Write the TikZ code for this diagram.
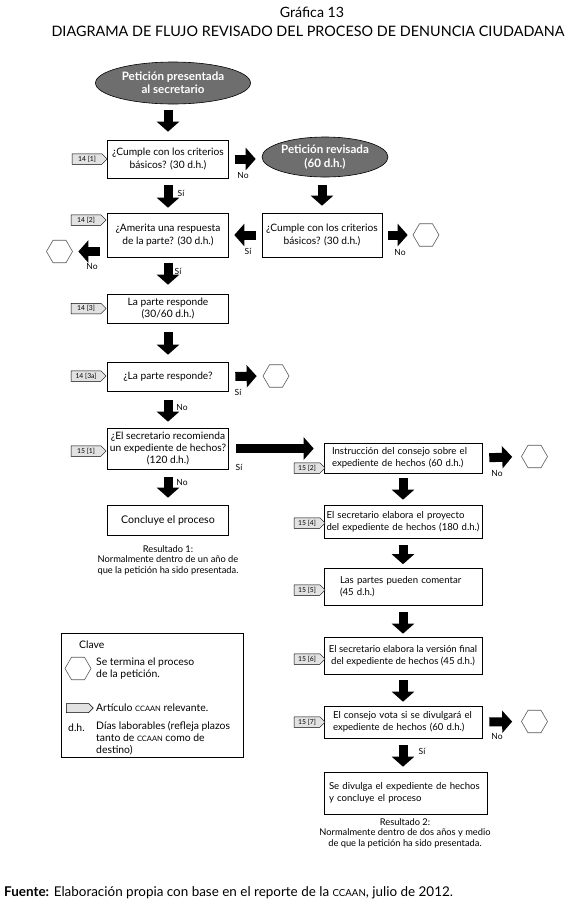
\documentclass[tikz,border=0pt]{standalone}
\usepackage{fontspec}
\setmainfont{Lato}
\usetikzlibrary{shapes.geometric,shapes.symbols,arrows.meta,calc}
\definecolor{ovalgray}{HTML}{6E6E6E}
\definecolor{tagfill}{HTML}{E2E2E2}
\newcommand{\ccaan}{{\fontsize{0.72em}{1em}\selectfont CCAAN}}
\newcommand{\oneln}[1]{\mbox{#1}}
\begin{document}
\begin{tikzpicture}[x=1pt,y=-1pt,
 box/.style={draw, line width=0.6pt, align=center, font=\fontsize{10.2}{12.8}\selectfont, inner xsep=1pt, inner ysep=2pt},
 lbox/.style={box, minimum width=121pt},
 rbox/.style={box, align=left, font=\fontsize{9.6}{12}\selectfont, inner xsep=8pt, text width=142pt},
 oval/.style={ellipse, draw, line width=0.6pt, fill=ovalgray, text=white, font=\bfseries\fontsize{11.6}{13.2}\selectfont, align=center, inner sep=0pt},
 hexa/.style={regular polygon, regular polygon sides=6, draw=black!65, line width=0.6pt, minimum size=26pt, inner sep=0pt},
 tagbox/.style={signal, signal to=east, draw, fill=tagfill, line width=0.5pt, font=\fontsize{6.8}{7}\selectfont, inner xsep=1.5pt, inner ysep=0.5pt, minimum height=10.5pt, minimum width=35pt},
 rtag/.style={tagbox, minimum width=31pt},
 blk/.style={line width=9pt, -{Triangle[width=22pt,length=10pt]}, black},
 lab/.style={font=\fontsize{8.5}{9}\selectfont, inner sep=0pt},
 res/.style={font=\fontsize{9.3}{10.6}\selectfont, align=center, inner sep=0pt},
 leg/.style={font=\fontsize{10.4}{12}\selectfont, align=left, inner sep=0pt},
]
\useasboundingbox (0,0) rectangle (568,906);

% titles
\node[font=\fontsize{14.2}{16}\selectfont] (t1) at (312,12) {Gráfica 13};
\node[font=\fontsize{14.4}{16}\selectfont] (t2) at (308,31) {DIAGRAMA DE FLUJO REVISADO DEL PROCESO DE DENUNCIA CIUDADANA};

% ellipses
\node[oval, minimum width=155pt, minimum height=42pt] (ell1) at (173,83) {Petición presentada\\al secretario};
\node[oval, minimum width=126pt, minimum height=40pt] (ell2) at (325,157) {Petición revisada\\(60 d.h.)};

% left column
\node[lbox, minimum height=38pt] (b1) at (168,159) {¿Cumple con los criterios\\básicos? (30 d.h.)};
\node[lbox, minimum height=44pt] (b2) at (168,235) {¿Amerita una respuesta\\de la parte? (30 d.h.)};
\node[lbox, minimum height=29pt] (b3) at (168,308.5) {La parte responde\\(30/60 d.h.)};
\node[lbox, minimum height=29pt] (b4) at (168,376.5) {¿La parte responde?};
\node[lbox, minimum height=41pt, font=\fontsize{10.2}{11.8}\selectfont] (b5) at (168,448.5) {¿El secretario recomienda\\un expediente de hechos?\\(120 d.h.)};
\node[lbox, minimum height=30pt, font=\fontsize{10.6}{12}\selectfont] (b6) at (168,520) {Concluye el proceso};
\node[res] (r1) at (168,560) {Resultado 1:\\Normalmente dentro de un año de\\que la petición ha sido presentada.};

% right box at second level
\node[box, minimum width=120pt, minimum height=44pt] (rb) at (322,235) {¿Cumple con los criterios\\básicos? (30 d.h.)};

% right column
\node[rbox, minimum height=30pt] (R1) at (403,458) {\oneln{Instrucción del consejo sobre el}\\\oneln{expediente de hechos (60 d.h.)}};
\node[rbox, inner xsep=2.5pt, text width=153pt, minimum height=33pt] (R2) at (403,521.5) {\oneln{El secretario elabora el proyecto}\\\oneln{del expediente de hechos (180 d.h.)}};
\node[rbox, inner xsep=16pt, text width=126pt, minimum height=37pt] (R3) at (403,587) {\oneln{Las partes pueden comentar}\\(45 d.h.)};
\node[box, font=\fontsize{9.6}{12}\selectfont, minimum width=158pt, minimum height=37pt] (R4) at (403,655.5) {El secretario elabora la versión final\\del expediente de hechos (45 d.h.)};
\node[rbox, inner xsep=9pt, text width=140pt, minimum height=32pt] (R5) at (403,722) {\oneln{El consejo vota si se divulgará el}\\\oneln{expediente de hechos (60 d.h.)}};
\node[rbox, inner xsep=5pt, text width=153pt, minimum height=42pt] (R6) at (405.5,793) {\oneln{Se divulga el expediente de hechos}\\\oneln{y concluye el proceso}};
\node[res] (r2) at (405,833) {Resultado 2:\\Normalmente dentro de dos años y medio\\de que la petición ha sido presentada.};

% hexagons
\node[hexa] (hA) at (426,235) {};
\node[hexa] (hL) at (59.5,251.5) {};
\node[hexa] (hB) at (276,376) {};
\node[hexa] (hC) at (534.5,456.5) {};
\node[hexa] (hD) at (534.5,721.5) {};

% tags
\node[tagbox] (g1) at (87,159) {14 [1]};
\node[tagbox] (g2) at (86,220) {14 [2]};
\node[tagbox] (g3) at (86,308.5) {14 [3]};
\node[tagbox] (g4) at (86,376) {14 [3a]};
\node[tagbox] (g5) at (86,451) {15 [1]};
\node[rtag] (g6) at (307,468) {15 [2]};
\node[rtag] (g7) at (307,523) {15 [4]};
\node[rtag] (g8) at (307,590) {15 [5]};
\node[rtag] (g9) at (307,659) {15 [6]};
\node[rtag] (g10) at (307,722) {15 [7]};

% arrows
\draw[blk, shorten <=6pt, shorten >=8pt] (ell1.south -| b1.north) -- (b1.north);
\draw[blk, shorten <=6pt, shorten >=6pt] (b1.east) -- (b1.east -| ell2.west);
\draw[blk, shorten <=7pt, shorten >=5pt] (b1.south) -- (b2.north);
\draw[blk, shorten <=8pt, shorten >=7pt] (ell2.south -| rb.north) -- (rb.north);
\draw[blk, shorten <=6pt, shorten >=5.5pt] (rb.west) -- (b2.east);
\draw[blk, shorten <=6pt, shorten >=5pt] (rb.east) -- (hA.west);
\draw[blk, shorten <=7.5pt, shorten >=5.5pt] (b2.west |- hL.east) -- (hL.east);
\draw[blk, shorten <=6pt, shorten >=9pt] (b2.south) -- (b3.north);
\draw[blk, shorten <=9pt, shorten >=7pt] (b3.south) -- (b4.north);
\draw[blk, shorten <=6.5pt, shorten >=6pt] (b4.east) -- (hB.west);
\draw[blk, shorten <=9pt, shorten >=6pt] (b4.south) -- (b5.north);
\draw[blk, shorten <=7.5pt, shorten >=10pt] (b5.east) -- (b5.east -| R1.west);
\draw[blk, shorten <=8pt, shorten >=7pt] (b5.south) -- (b6.north);
\draw[blk, shorten <=7pt, shorten >=9pt] (R1.east) -- (hC.west);
\draw[blk, shorten <=5pt, shorten >=5pt] (R1.south) -- (R1.south |- R2.north);
\draw[blk, shorten <=7pt, shorten >=4pt] (R2.south) -- (R2.south |- R3.north);
\draw[blk, shorten <=6.5pt, shorten >=3pt] (R3.south) -- (R3.south |- R4.north);
\draw[blk, shorten <=6pt, shorten >=4pt] (R4.south) -- (R4.south |- R5.north);
\draw[blk, shorten <=7pt, shorten >=9pt] (R5.east) -- (hD.west);
\draw[blk, shorten <=7pt, shorten >=5pt] (R5.south) -- (R5.south |- R6.north);

% labels
\node[lab] (l1) at (243,175) {No};
\node[lab] (l2) at (181,193) {Sí};
\node[lab] (l3) at (248,251) {Sí};
\node[lab] (l4) at (400,252) {No};
\node[lab] (l5) at (92,266) {No};
\node[lab] (l6) at (178,271) {Sí};
\node[lab] (l7) at (238,392) {Sí};
\node[lab] (l8) at (182,407) {No};
\node[lab] (l9) at (239,467) {Sí};
\node[lab] (l10) at (182,482) {No};
\node[lab] (l11) at (497,473) {No};
\node[lab] (l12) at (497,736) {No};
\node[lab] (l13) at (422,751) {Sí};

% legend
\node[draw, line width=0.6pt, minimum width=182pt, minimum height=124pt] (legend) at (152,695) {};
\node[leg, anchor=west] (lc) at (79,645) {Clave};
\node[hexa] (lh) at (78,668.5) {};
\node[leg, anchor=west] (lht) at (96,668.5) {Se termina el proceso\\de la petición.};
\node[tagbox, minimum width=27pt, minimum height=9pt] (ltag) at (77.5,708) {};
\node[leg, anchor=west] (ltt) at (96,708) {Artículo \ccaan{} relevante.};
\node[leg, anchor=west] (ldh) at (68,728) {d.h.};
\node[leg, anchor=north west] (ldt) at (96,721.5) {Días laborables (refleja plazos\\tanto de \ccaan{} como de\\destino)};

% footer
\node[anchor=west, font=\fontsize{13.45}{15}\selectfont, inner sep=0pt] (foot) at (4,893) {\textbf{Fuente:} Elaboración propia con base en el reporte de la \ccaan, julio de 2012.};
\end{tikzpicture}
\end{document}
